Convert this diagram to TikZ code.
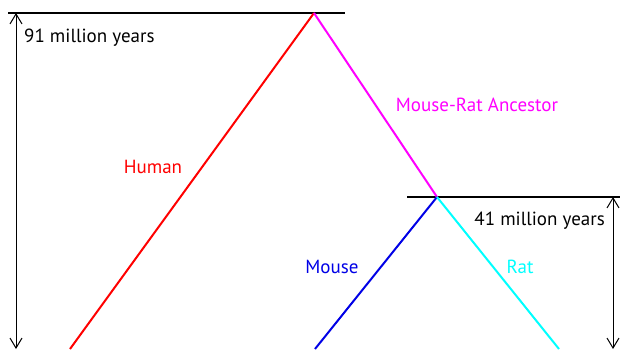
\documentclass[tikz,border=0pt]{standalone}
\usepackage{fontspec}
\setmainfont{PT Sans}
\usetikzlibrary{arrows.meta}
\definecolor{cRed}{RGB}{255,0,0}
\definecolor{cMag}{RGB}{255,0,255}
\definecolor{cBlue}{RGB}{0,0,230}
\definecolor{cCyan}{RGB}{0,255,255}
\begin{document}
\begin{tikzpicture}[x=1pt,y=1pt,
  branch/.style={line width=2pt},
  rule/.style={line width=1.3pt, black},
  dim/.style={line width=1pt, black, {Straight Barb[length=10pt,width=12pt]}-{Straight Barb[length=10pt,width=12pt]}},
  lbl/.style={font=\fontsize{19}{22}\selectfont, inner sep=0pt}]
\useasboundingbox (0,0) rectangle (622,349);
\coordinate (apex) at (314,336);
\coordinate (split) at (437,152);
\coordinate (hEnd) at (70,0);
\coordinate (mEnd) at (315,0);
\coordinate (rEnd) at (559,0);
\coordinate (t1a) at (8,336);
\coordinate (t1b) at (345,336);
\coordinate (t2a) at (407,152);
\coordinate (t2b) at (620,152);
\coordinate (d1a) at (16,336);
\coordinate (d1b) at (16,0);
\coordinate (d2a) at (613,152);
\coordinate (d2b) at (613,0);
\draw[rule] (t1a) -- (t1b);
\draw[rule] (t2a) -- (t2b);
\draw[dim] (d1a) -- (d1b);
\draw[dim] (d2a) -- (d2b);
\draw[branch, cRed] (apex) -- (hEnd);
\draw[branch, cMag] (apex) -- (split);
\draw[branch, cBlue] (split) -- (mEnd);
\draw[branch, cCyan] (split) -- (rEnd);
\node[lbl, anchor=west] (l91) at (24,311) {91 million years};
\node[lbl, cRed] (lh) at (153,182) {Human};
\node[lbl, cMag] (lmra) at (477,244) {Mouse-Rat Ancestor};
\node[lbl, anchor=east] (l41) at (605,128) {41 million years};
\node[lbl, cBlue] (lm) at (332,82) {Mouse};
\node[lbl, cCyan] (lr) at (520,82) {Rat};
\end{tikzpicture}
\end{document}
